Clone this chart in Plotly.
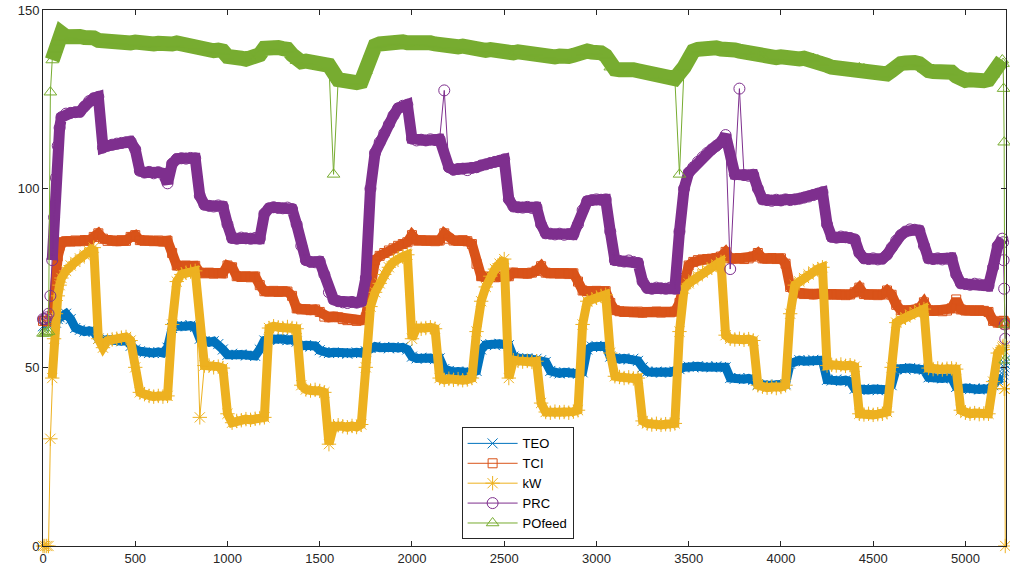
import plotly.graph_objects as go

# sample index (time step) of each reading
x_head = list(range(0, 100, 10))
x_body = list(range(100, 5201, 25))
x_tail = [5204, 5207, 5210, 5213, 5216]
steps = x_head + x_body + x_tail

teo = [
    61.5, 61.5, 62, 62, 62.5, 63, 63, 62.5, 63.5, 64,
    64.5, 65, 63.5, 61, 60.5, 60, 60.2, 60, 58, 57.5, 57.8, 57.5, 57.6, 57.3, 57.5, 56, 55, 54.5, 54.2, 54,
    54, 54.3, 54, 55.5, 61, 61.5, 61.8, 61.5, 61.7, 61.3, 58, 57.2, 57, 57.3, 56.5, 55, 53.5, 53.8, 53.5, 53.6,
    53.3, 53.5, 53.2, 55, 57.5, 57.8, 58, 57.7, 58, 57.6, 57.8, 57.2, 56, 56.2, 55.8, 56, 54.8, 54.2, 54, 54.2,
    54, 54, 53.8, 54, 54.2, 54, 54.5, 55.5, 55.8, 55.5, 55.7, 55.3, 55.6, 55.4, 55.6, 55, 53, 52.5, 52.7, 52.4,
    52.6, 52.3, 52.5, 49.5, 49, 48.7, 48.8, 48.6, 48.8, 48.5, 49, 55, 56.3, 56.5, 56.2, 56.6, 56.4, 56.2, 53, 52.5,
    52.3, 52.5, 52.2, 52.4, 52, 51.5, 49, 48.5, 48.3, 48.6, 48.4, 48.5, 48.2, 48.6, 55, 55.8, 56, 55.7, 55.9, 53,
    52.5, 52.3, 52.5, 52.2, 52.4, 51.8, 50, 48.8, 48.6, 48.8, 48.5, 48.7, 48.6, 48.8, 49.5, 50, 50.2, 50, 50.3, 50.1,
    50.2, 50, 50.3, 50.1, 50, 47, 46.8, 47, 46.7, 46.9, 46.5, 45.2, 45, 45.2, 44.9, 45.1, 45, 45.3, 51, 51.8,
    52, 51.7, 51.9, 52.1, 51.8, 52, 46.5, 46.3, 46.6, 46.2, 46.4, 46, 44, 43.8, 44, 43.7, 43.9, 43.6, 43.8, 43.7,
    45, 49.5, 49.7, 49.4, 49.8, 49.6, 49.5, 49.3, 47.2, 47, 47.3, 46.9, 47.1, 47, 44.5, 44, 44.2, 43.9, 44.1, 43.8,
    44, 43.9, 45, 46.5, 47,
    48, 49, 50, 51, 52,
]

tci = [
    63, 63, 62.8, 63, 63.5, 64.5, 68, 75, 81, 84,
    85, 85.3, 85.2, 85.5, 85.3, 85.6, 85.4, 86.5, 87.5, 86, 85.4, 85.5, 85.3, 85.6, 85.4, 86.5, 87, 85.6, 85.4, 85.5,
    85.3, 85.5, 85.2, 85.4, 82, 78.5, 78.3, 78.5, 78.2, 78.4, 76.5, 76.3, 76.5, 76.2, 76.4, 76.3, 78.5, 78, 75.5, 75.3,
    75.5, 75.2, 75.4, 73, 71.3, 71.2, 71.4, 71.1, 71.3, 71.2, 70, 66.5, 66.2, 66.3, 66, 66.2, 65.5, 64.2, 64, 64.2,
    64, 63.5, 63.2, 63.3, 63, 63.2, 64, 72, 80, 81.2, 82, 82.7, 83.3, 84, 84.5, 85, 87, 85.5, 85.6, 85.4,
    85.5, 85.3, 85.5, 87.5, 86, 85.5, 85.4, 85.6, 85.3, 84.5, 79, 75.5, 75.3, 75.4, 75.2, 75.4, 75.3, 75.5, 76.5, 76.3,
    76.4, 76.2, 76.5, 77, 78.3, 76.5, 76.3, 76.4, 76.2, 76.4, 76.1, 76.3, 74, 71.5, 71.3, 71.2, 71.4, 71.2, 71.3, 68,
    66, 65.7, 65.5, 65.6, 65.4, 65.6, 65.3, 65.5, 65.4, 65.6, 65.3, 65.5, 65.4, 65.6, 68, 75, 78.5, 79.5, 80, 80.2,
    80.3, 80.4, 80.5, 81, 82.3, 80.5, 80.4, 80.6, 80.3, 80.5, 81, 82, 80.5, 80.4, 80.6, 80.3, 80.5, 79, 72.5, 71,
    70.7, 70.5, 70.6, 70.4, 70.6, 70.5, 70.3, 70.5, 70.3, 70.4, 70.2, 70.4, 71, 72.3, 70.5, 70.3, 70.4, 70.2, 70.4, 71.5,
    70.3, 67.5, 66, 65.8, 66, 65.8, 66.5, 68.2, 66, 65.8, 66, 65.7, 65.9, 66.5, 69, 66.2, 65.9, 66, 65.8, 66,
    65.8, 65.5, 63, 62.5, 62.5,
    63, 63, 62.5, 62.5, 62,
]

kw = [
    0, 0, 0, 0, 30, 47, 58, 65, 70, 73,
    75, 77, 78.5, 79.5, 80.5, 81.5, 82.5, 83.5, 58, 55.5, 57.5, 57.8, 58, 58.3, 58.5, 57.5, 50, 43, 42.5, 42,
    41.8, 42, 41.8, 42, 62, 74, 76, 76.5, 76.8, 77, 36, 50.5, 50.5, 50, 50.2, 49.8, 37, 34.5, 35, 35.2,
    35.5, 35.3, 35.6, 35.8, 36, 61, 61.5, 61.2, 61, 61.3, 61, 60.8, 45, 43.8, 43.5, 43.7, 43.4, 43, 28.5, 33.5,
    33.8, 33.5, 33.2, 33.6, 33.3, 34, 50, 67, 71, 73.5, 76, 78, 79.5, 80.5, 81, 81.5, 58, 61, 60.8, 61,
    61.2, 60.8, 47, 46.5, 46.8, 46.5, 46.7, 46.4, 46.6, 47, 60, 68.5, 72.5, 75.5, 77.5, 79, 80.3, 47, 52, 51.8,
    51.6, 51.8, 51.5, 51.7, 40, 37.5, 37.3, 37.6, 37.4, 37.5, 37.3, 37.6, 38, 62, 68.5, 69, 69.5, 70, 70.3, 54,
    47.5, 47.3, 47, 47.2, 46.9, 47, 35, 34.3, 34, 34.2, 33.9, 34.1, 34, 34.3, 60, 72, 73.5, 74.5, 75.5, 76.5,
    77.3, 78, 78.8, 79.5, 59, 58, 57.8, 58, 57.7, 57.9, 57.5, 45, 44.6, 44.3, 44.5, 44.2, 44.5, 45, 65, 73,
    74, 75, 76, 76.8, 77.5, 78, 50.5, 50.7, 50.5, 50.8, 50.4, 50.6, 50.2, 37, 36.8, 37, 36.7, 36.9, 37, 37.5,
    50, 62.5, 63.3, 64, 64.8, 65.5, 66, 66.3, 49.8, 49.5, 49.7, 49.4, 49.6, 49.7, 49.5, 38, 37.3, 37, 37.2, 36.9,
    37.1, 37, 46, 54, 55.5,
    56, 55, 44, 44, 0,
]

prc = [
    63.5, 63.5, 64, 65, 70, 80, 92, 103, 112, 117,
    120, 121, 121.2, 121.4, 121.5, 123, 124.5, 125.3, 125.7, 111.5, 112, 112.3, 112.6, 112.8, 113, 113.2, 111, 105, 104.5, 104.7,
    104.3, 104.6, 104.2, 101.5, 107, 108.3, 108.5, 108.4, 108.6, 108.5, 98, 95.5, 95.2, 95, 95.3, 95, 90, 86.2, 86, 86.3,
    86.1, 86, 86.2, 86, 93, 94.5, 94.8, 94.6, 94.5, 94.7, 94.3, 90, 84, 80, 79.5, 79.4, 79.6, 76, 71, 69,
    68.5, 68.2, 68, 68.3, 68.1, 68.4, 75, 100, 110, 113, 115.5, 118, 120.5, 122.5, 123.2, 123.5, 114, 113.5, 113.7, 113.5,
    113.8, 113.6, 113.8, 127.5, 106, 105.3, 105.5, 105.6, 105.2, 105.8, 106, 106.5, 106.8, 107.2, 107.5, 107.8, 108.2, 97, 95, 94.8,
    94.7, 94.9, 94.6, 94.8, 90, 87.5, 87.4, 87.2, 87.4, 87.1, 87.3, 87.2, 90, 94, 96.5, 96.8, 97, 96.9, 97, 88,
    80, 79.8, 79.6, 79.9, 79.5, 79.2, 74, 72.2, 72, 72.3, 72.1, 72, 72.3, 72, 88, 100, 104.5, 106, 107.5, 108.8,
    110, 111, 112, 113, 115, 77.5, 104, 128, 103.8, 103.6, 103.9, 100, 97, 96.8, 96.6, 96.9, 96.7, 97, 96.8, 97,
    97.2, 97.5, 97.8, 98.2, 98.6, 99, 90, 86.5, 86.3, 86.6, 86.4, 86.2, 85.8, 82, 80.5, 80.3, 80.5, 80.2, 80.4, 81.5,
    83.5, 85.5, 87, 88, 88.6, 88.5, 88.3, 84, 80.5, 80.3, 80.5, 80.2, 80.4, 80.6, 76, 73.5, 73.3, 73.1, 73.4, 73.2,
    73, 72.8, 78, 84, 86,
    85, 80, 72, 62, 58,
]

pofeed = [
    59.5, 59.5, 59.8, 60, 127, 136, 137.5, 139, 141, 142.5,
    143.5, 142.5, 142.8, 142.4, 142.6, 142.3, 142.5, 142.2, 141.5, 141.3, 141.5, 141.2, 141, 141.3, 141, 140.8, 141, 140.7, 140.5, 140.8,
    140.5, 140.7, 140.3, 140.6, 140.5, 140.8, 140.4, 140.6, 140.2, 139.8, 139.2, 138.8, 139, 138.6, 138.8, 138.5, 137, 136.5, 136.3, 136.5,
    136.2, 136.4, 136.5, 137.5, 139.3, 139.6, 139.8, 139.5, 139.2, 139, 137.5, 135.8, 135.5, 135.7, 135.4, 135.2, 134.6, 134.3, 134.5, 104,
    130.5, 130.2, 129.8, 130, 129.7, 130, 133, 138, 140, 140.5, 140.8, 141, 141.2, 140.9, 141.1, 140.8, 141, 140.7, 140.9, 140.6,
    140.8, 140.5, 140.2, 140, 139.8, 140, 139.7, 139.9, 139.5, 139, 138.8, 139, 138.7, 138.9, 138.6, 138.8, 138.5, 138.2, 138, 138.3,
    138, 138.2, 137.9, 138.1, 137.4, 137, 137.2, 136.9, 137.1, 136.8, 137, 137.3, 138, 138.3, 138.5, 138.2, 138.4, 138, 137.2, 134,
    133.5, 133.3, 133.5, 133.2, 133.3, 133, 132.7, 132.4, 132, 131.7, 131.5, 131.2, 131, 130.8, 104, 134, 137, 138.5, 139, 139.3,
    139.5, 139.2, 139.4, 139.1, 139.3, 139, 138.8, 138.5, 138.2, 138.4, 138, 137.5, 137, 136.8, 137, 136.7, 136.9, 136.6, 136.8, 136.5,
    136.3, 136.5, 136.2, 136.4, 136, 135.5, 134.5, 134, 133.8, 134, 133.7, 133.9, 133.6, 133.8, 133.5, 133, 132.5, 132.2, 132.4, 132.1,
    133, 134.5, 135, 135.2, 135.5, 135.3, 135, 133.5, 133, 132.8, 133, 132.7, 132.9, 132.6, 131.5, 130.5, 130.3, 130.5, 130.2, 130.4,
    130.2, 130.5, 132, 134.5, 136,
    135, 128, 113, 62, 52,
]

series_names = ["TEO", "TCI", "kW", "PRC", "POfeed"]
series_values = [teo, tci, kw, prc, pofeed]
colors = ["#0072BD", "#D95319", "#EDB120", "#7E2F8E", "#77AC30"]
symbols = ["x-thin-open", "square-open", "asterisk-open", "circle-open", "triangle-up-open"]
marker_sizes = [10, 9, 12, 11, 11]
band_widths = [9, 10, 9, 11, 15]

x_ticks = list(range(0, 5001, 500))
y_ticks = [0, 50, 100, 150]


def band_values(vals, lo=50, hi=5200, jump=10):
    """Densely overlapping markers form a solid band; isolated one-sample
    spikes and the start/end transients stay thin."""
    out = []
    for i, v in enumerate(vals):
        s = steps[i]
        if s < lo or s > hi:
            out.append(None)
            continue
        if 0 < i < len(vals) - 1:
            d1 = v - vals[i - 1]
            d2 = v - vals[i + 1]
            if abs(d1) > jump and abs(d2) > jump and d1 * d2 > 0:
                out.append(None)
                continue
        out.append(v)
    return out


fig = go.Figure()
for name, vals, col, sym, msz, bw in zip(series_names, series_values, colors,
                                           symbols, marker_sizes, band_widths):
    fig.add_trace(go.Scatter(
        x=steps, y=band_values(vals), mode="lines", connectgaps=True,
        line=dict(color=col, width=bw), showlegend=False, hoverinfo="skip",
    ))
    fig.add_trace(go.Scatter(
        x=steps, y=vals, name=name, mode="lines+markers",
        line=dict(color=col, width=1),
        marker=dict(symbol=sym, size=msz, color=col, line=dict(color=col, width=1)),
        cliponaxis=False,
    ))

axis_common = dict(
    showline=True, linecolor="#262626", linewidth=1, mirror="ticks",
    ticks="inside", ticklen=5, tickcolor="#262626", showgrid=False, zeroline=False,
    tickfont=dict(family="Liberation Sans, Arial, sans-serif", size=13, color="#262626"),
)

fig.update_layout(
    width=1010, height=577,
    margin=dict(l=43, r=3, t=8, b=31),
    paper_bgcolor="white", plot_bgcolor="white",
    xaxis=dict(range=[0, 5220], tickvals=x_ticks, **axis_common),
    yaxis=dict(range=[0, 150], tickvals=y_ticks, **axis_common),
    legend=dict(
        x=0.4347, y=0.2212, xanchor="left", yanchor="top",
        bgcolor="white", bordercolor="#262626", borderwidth=1,
        font=dict(family="Liberation Sans, Arial, sans-serif", size=13, color="#000000"),
        itemwidth=50, tracegroupgap=0,
    ),
    showlegend=True,
)

fig.write_html("out.html")
